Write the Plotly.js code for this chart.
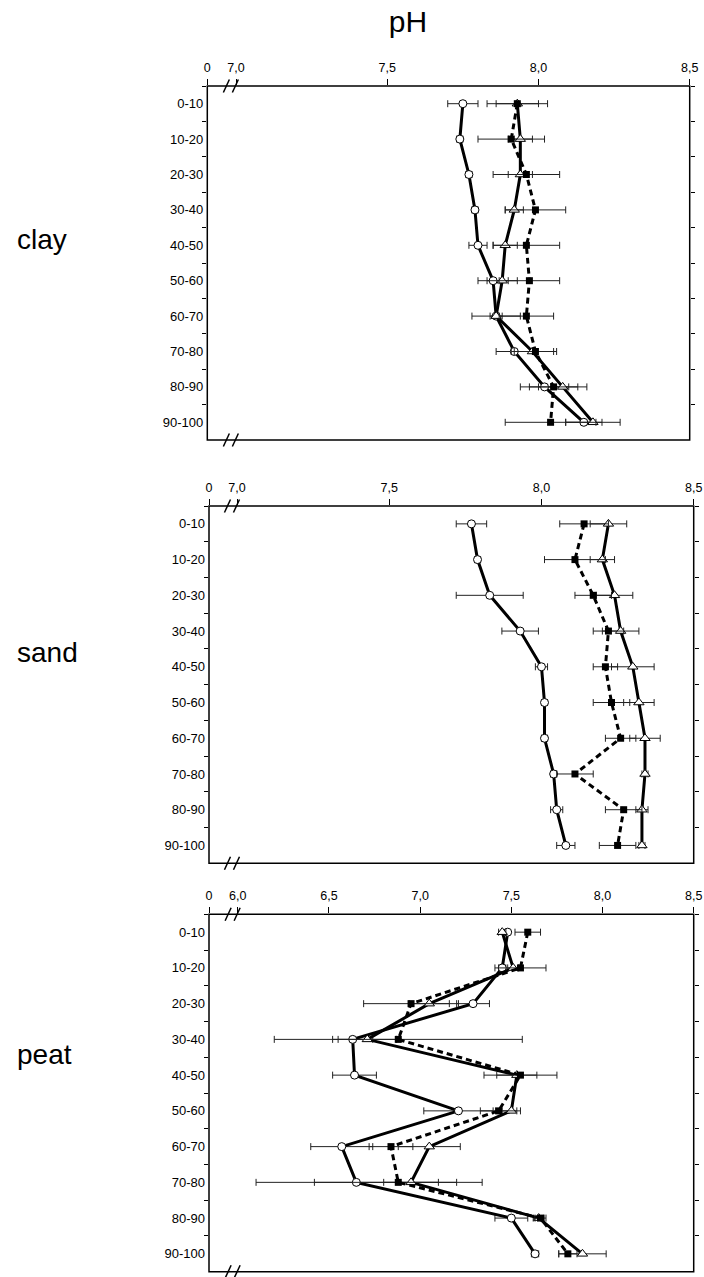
<!DOCTYPE html>
<html>
<head>
<meta charset="utf-8">
<script src="https://cdn.plot.ly/plotly-3.0.1.min.js"></script>
<style>
  html, body { margin: 0; padding: 0; background: #fff; }
  #chart { width: 704px; height: 1277px; }
</style>
</head>
<body>
<div id="chart"></div>
<script>
// ---------------- DATA ----------------
const depths = ['0-10','10-20','20-30','30-40','40-50','50-60','60-70','70-80','80-90','90-100'];

// clay
const clayCircle    = [7.75, 7.74, 7.77, 7.79, 7.80, 7.85, 7.86, 7.92, 8.02, 8.15];
const clayCircleErr = [0.05, 0.01, 0.01, 0.01, 0.03, 0.05, 0.08, 0.06, 0.08, 0.06];
const clayTri       = [7.93, 7.94, 7.94, 7.92, 7.89, 7.88, 7.86, 7.98, 8.08, 8.18];
const clayTriErr    = [0.07, 0.04, 0.04, 0.03, 0.04, 0.05, 0.02, 0.07, 0.08, 0.09];
const claySq        = [7.93, 7.91, 7.96, 7.99, 7.96, 7.97, 7.96, 7.99, 8.05, 8.04];
const claySqErr     = [0.10, 0.11, 0.11, 0.10, 0.11, 0.10, 0.09, 0.07, 0.08, 0.15];

// sand
const sandCircle    = [7.77, 7.79, 7.83, 7.93, 8.00, 8.01, 8.01, 8.04, 8.05, 8.08];
const sandCircleErr = [0.05, 0.01, 0.11, 0.06, 0.02, 0.01, 0.01, 0.01, 0.02, 0.03];
const sandTri       = [8.22, 8.20, 8.24, 8.26, 8.30, 8.32, 8.34, 8.34, 8.33, 8.33];
const sandTriErr    = [0.06, 0.04, 0.06, 0.06, 0.07, 0.05, 0.05, 0.01, 0.02, 0.01];
const sandSq        = [8.14, 8.11, 8.17, 8.22, 8.21, 8.23, 8.26, 8.11, 8.27, 8.25];
const sandSqErr     = [0.08, 0.10, 0.06, 0.05, 0.04, 0.06, 0.05, 0.06, 0.06, 0.06];

// peat
const peatCircle    = [7.48, 7.45, 7.29, 6.63, 6.64, 7.21, 6.57, 6.65, 7.50, 7.63];
const peatCircleErr = [0.01, 0.02, 0.09, 0.11, 0.12, 0.19, 0.17, 0.55, 0.09, 0.02];
const peatTri       = [7.45, 7.51, 7.05, 6.71, 7.53, 7.50, 7.05, 6.95, 7.65, 7.89];
const peatTriErr    = [0.02, 0.03, 0.11, 0.16, 0.11, 0.05, 0.17, 0.15, 0.03, 0.13];
const peatSq        = [7.59, 7.55, 6.95, 6.88, 7.55, 7.43, 6.84, 6.88, 7.66, 7.81];
const peatSqErr     = [0.07, 0.14, 0.26, 0.68, 0.20, 0.10, 0.12, 0.46, 0.03, 0.05];

// tick labels
const clayTickVals = [7.0, 7.5, 8.0, 8.5];
const clayTickText = ['7,0', '7,5', '8,0', '8,5'];
const sandTickVals = [7.0, 7.5, 8.0, 8.5];
const sandTickText = ['7,0', '7,5', '8,0', '8,5'];
const peatTickVals = [6.0, 6.5, 7.0, 7.5, 8.0, 8.5];
const peatTickText = ['6,0', '6,5', '7,0', '7,5', '8,0', '8,5'];
const breakLabel = '0';
const panelNames = ['clay', 'sand', 'peat'];
const titleText = 'pH';

// ---------------- LAYOUT GEOMETRY (pixels) ----------------
const W = 704, H = 1277;
const fx = px => px / W;
const fy = py => 1 - py / H;
const FONT = 'Liberation Sans, Arial, Helvetica, sans-serif';

const panels = [
  { name: panelNames[0], c: clayCircle, ce: clayCircleErr, t: clayTri, te: clayTriErr, s: claySq, se: claySqErr,
    tv: clayTickVals, tt: clayTickText, lo: 6.905, hi: 8.5,
    x0: 207.3, x1: 689.7, top: 86, bot: 440, labelY: 239 },
  { name: panelNames[1], c: sandCircle, ce: sandCircleErr, t: sandTri, te: sandTriErr, s: sandSq, se: sandSqErr,
    tv: sandTickVals, tt: sandTickText, lo: 6.908, hi: 8.5,
    x0: 209, x1: 693.7, top: 506, bot: 863.3, labelY: 652 },
  { name: panelNames[2], c: peatCircle, ce: peatCircleErr, t: peatTri, te: peatTriErr, s: peatSq, se: peatSqErr,
    tv: peatTickVals, tt: peatTickText, lo: 5.842, hi: 8.5,
    x0: 209, x1: 693.7, top: 914.3, bot: 1271.7, labelY: 1054 }
];

const traces = [];
const layout = {
  width: W, height: H,
  margin: { l: 0, r: 0, t: 0, b: 0, pad: 0 },
  paper_bgcolor: '#fff', plot_bgcolor: 'rgba(0,0,0,0)',
  showlegend: false,
  font: { family: FONT, size: 12, color: '#000' },
  title: { text: titleText, font: { family: FONT, size: 30, color: '#000' },
           x: fx(408), xanchor: 'center', xref: 'paper', y: fy(21), yanchor: 'middle', yref: 'container' },
  annotations: [],
  shapes: []
};

const errStyle = (arr) => ({ type: 'data', array: arr, visible: true, color: '#222', thickness: 1, width: 3.5 });

panels.forEach((p, i) => {
  const n = i + 1;
  const xa = n === 1 ? 'x' : 'x' + n;
  const ya = n === 1 ? 'y' : 'y' + n;
  const xKey = n === 1 ? 'xaxis' : 'xaxis' + n;
  const yKey = n === 1 ? 'yaxis' : 'yaxis' + n;
  const base = p.tv[0];

  // main x axis (top, labels, outside ticks)
  layout[xKey] = {
    domain: [fx(p.x0), fx(p.x1)], anchor: ya, side: 'top',
    range: [p.lo, p.hi], fixedrange: true,
    tickmode: 'array', tickvals: [p.lo].concat(p.tv), ticktext: [breakLabel].concat(p.tt),
    ticks: 'outside', ticklen: 6, tickwidth: 1, tickcolor: '#000', ticklabelstandoff: 2,
    showline: false, showgrid: false, zeroline: false,
    tickfont: { family: FONT, size: 12.5, color: '#000' }
  };
  // overlay top: inside ticks (major + minor)
  const kTop = 'xaxis' + (3 + 2 * n);
  const kBot = 'xaxis' + (4 + 2 * n);
  layout[kTop] = {
    overlaying: xa, anchor: ya, side: 'top', range: [p.lo, p.hi], fixedrange: true,
    tickmode: 'linear', tick0: base, dtick: 0.5,
    ticks: 'inside', ticklen: 6, tickwidth: 1, tickcolor: '#000',
    minor: { tick0: base, dtick: 0.1, ticks: 'inside', ticklen: 3, tickwidth: 1, tickcolor: '#000', showgrid: false },
    showticklabels: false, showline: false, showgrid: false, zeroline: false
  };
  // overlay bottom: small ticks
  layout[kBot] = {
    overlaying: xa, anchor: ya, side: 'bottom', range: [p.lo, p.hi], fixedrange: true,
    tickmode: 'linear', tick0: base, dtick: 0.1,
    ticks: 'inside', ticklen: 3, tickwidth: 1, tickcolor: '#000',
    showticklabels: false, showline: false, showgrid: false, zeroline: false
  };

  layout[yKey] = {
    domain: [fy(p.bot), fy(p.top)], anchor: xa,
    type: 'category', categoryorder: 'array', categoryarray: depths,
    range: [depths.length - 0.5, -0.5], fixedrange: true,
    tickson: 'boundaries', ticks: 'outside', ticklen: 4, tickwidth: 1, tickcolor: '#000',
    ticklabelstandoff: 3,
    showline: false, mirror: 'ticks',
    showgrid: false, zeroline: false,
    tickfont: { family: FONT, size: 13, color: '#000' }
  };

  // frame of the panel
  layout.shapes.push({
    type: 'rect', xref: xa + ' domain', yref: ya + ' domain', x0: 0, x1: 1, y0: 0, y1: 1,
    line: { color: '#000', width: 1.5 }, fillcolor: 'rgba(0,0,0,0)', layer: 'above'
  });

  // series
  traces.push({
    type: 'scatter', mode: 'lines+markers', x: p.c, y: depths, xaxis: xa, yaxis: ya,
    line: { color: '#000', width: 3 },
    marker: { symbol: 'circle', size: 8, color: '#fff', line: { color: '#000', width: 1 } },
    error_x: errStyle(p.ce), cliponaxis: false, hoverinfo: 'skip'
  });
  traces.push({
    type: 'scatter', mode: 'lines+markers', x: p.t, y: depths, xaxis: xa, yaxis: ya,
    line: { color: '#000', width: 3 },
    marker: { symbol: 'triangle-up', size: 9, color: '#fff', line: { color: '#000', width: 1 } },
    error_x: errStyle(p.te), cliponaxis: false, hoverinfo: 'skip'
  });
  traces.push({
    type: 'scatter', mode: 'lines+markers', x: p.s, y: depths, xaxis: xa, yaxis: ya,
    line: { color: '#000', width: 3, dash: '6px,4px' },
    marker: { symbol: 'square', size: 7, color: '#000', line: { color: '#000', width: 0 } },
    error_x: errStyle(p.se), cliponaxis: false, hoverinfo: 'skip'
  });

  // panel label
  layout.annotations.push({
    text: p.name, xref: 'paper', yref: 'paper', x: fx(15), xanchor: 'left',
    y: fy(p.labelY), yanchor: 'middle', showarrow: false,
    font: { family: FONT, size: 28, color: '#000' }
  });

  // axis break slashes (top and bottom)
  const bx = p.lo + 0.82 * (base - p.lo);
  [fy(p.top), fy(p.bot)].forEach(yy => {
    [[-7.5, -1.5], [1.5, 7.5]].forEach(([a, b]) => {
      layout.shapes.push({
        type: 'line', xref: xa, yref: 'paper',
        xsizemode: 'pixel', xanchor: bx, x0: a, x1: b,
        ysizemode: 'pixel', yanchor: yy, y0: -6.5, y1: 6.5,
        line: { color: '#000', width: 1.5 }, layer: 'above'
      });
    });
  });
});

// clip the descender of the title as in the reference
layout.shapes.push({
  type: 'rect', xref: 'paper', yref: 'paper',
  x0: fx(380), x1: fx(440), y0: fy(46), y1: fy(32.5),
  fillcolor: '#fff', line: { width: 0 }, layer: 'above'
});

Plotly.newPlot('chart', traces, layout, { displayModeBar: false, staticPlot: true });
</script>
</body>
</html>
